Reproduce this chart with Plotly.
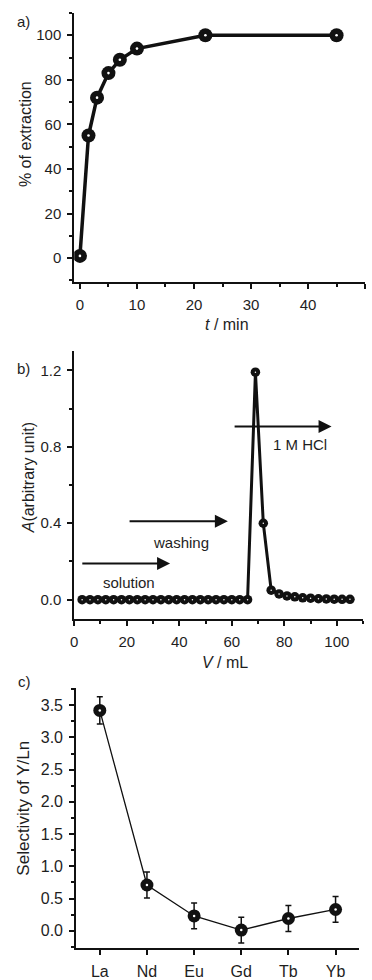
import plotly.graph_objects as go

# ---------------- data ----------------
t_min = [0, 1.5, 3, 5, 7, 10, 22, 45]
extraction_pct = [1, 55, 72, 83, 89, 94, 100, 100]

volume_ml = [3, 6, 9, 12, 15, 18, 21, 24, 27, 30, 33, 36, 39, 42, 45, 48, 51, 54,
             57, 60, 63, 66, 69, 72, 75, 78, 81, 84, 87, 90, 93, 96, 99, 102, 105]
absorbance = [0, 0, 0, 0, 0, 0, 0, 0, 0, 0, 0, 0, 0, 0, 0, 0, 0, 0,
              0, 0, 0, 0, 1.19, 0.40, 0.05, 0.03, 0.02, 0.015, 0.01, 0.008, 0.005,
              0.004, 0.003, 0.002, 0.002]

elements = ["La", "Nd", "Eu", "Gd", "Tb", "Yb"]
selectivity = [3.42, 0.71, 0.23, 0.01, 0.19, 0.33]
selectivity_err = [0.21, 0.20, 0.20, 0.20, 0.20, 0.20]

W, H = 372, 980
FONT = "Liberation Sans, Arial, Helvetica, sans-serif"
INK = "#111111"
TXT = "#1e1e1e"


def px_x(x):
    return x / W


def px_y(y):
    return 1 - y / H


fig = go.Figure()

# panel a
fig.add_trace(go.Scatter(x=t_min, y=extraction_pct, mode="lines+markers",
                         line=dict(color=INK, width=3.5),
                         marker=dict(size=14, color=INK),
                         xaxis="x", yaxis="y", showlegend=False))
fig.add_trace(go.Scatter(x=t_min, y=extraction_pct, mode="markers",
                         marker=dict(size=2.6, color="white"),
                         xaxis="x", yaxis="y", showlegend=False))

# panel b
fig.add_trace(go.Scatter(x=volume_ml, y=absorbance, mode="lines+markers",
                         line=dict(color=INK, width=3),
                         marker=dict(size=9.5, color=INK),
                         xaxis="x2", yaxis="y2", showlegend=False))
fig.add_trace(go.Scatter(x=volume_ml, y=absorbance, mode="markers",
                         marker=dict(size=1.5, color="white"),
                         xaxis="x2", yaxis="y2", showlegend=False))

# panel c
fig.add_trace(go.Scatter(x=elements, y=selectivity, mode="lines+markers",
                         line=dict(color=INK, width=1.3),
                         marker=dict(size=13, color=INK),
                         error_y=dict(type="data", array=selectivity_err, visible=True,
                                      color=INK, thickness=1.5, width=3),
                         xaxis="x3", yaxis="y3", showlegend=False))
fig.add_trace(go.Scatter(x=elements, y=selectivity, mode="markers",
                         marker=dict(size=2.5, color="white"),
                         xaxis="x3", yaxis="y3", showlegend=False))

minor_common = dict(ticks="outside", ticklen=3, tickwidth=2, tickcolor=INK)


def axis_common(size):
    return dict(showline=True, linecolor=INK, linewidth=2, showgrid=False,
                zeroline=False, ticks="outside", ticklen=5, tickwidth=2,
                tickcolor=INK, mirror=False, ticklabelstandoff=3,
                tickfont=dict(family=FONT, size=size, color=TXT))


fig.update_layout(
    width=W, height=H,
    margin=dict(l=0, r=0, t=0, b=0),
    paper_bgcolor="white", plot_bgcolor="white",
    font=dict(family=FONT, color=TXT),
    xaxis=dict(domain=[px_x(71), px_x(365)], range=[-1, 50], dtick=10,
               minor=dict(dtick=5, **minor_common),
               anchor="y", **axis_common(15)),
    yaxis=dict(domain=[px_y(283), px_y(13)], range=[-10.5, 110], dtick=20,
               minor=dict(dtick=10, **minor_common),
               anchor="x", **axis_common(15)),
    xaxis2=dict(domain=[px_x(71), px_x(363)], range=[0, 110], dtick=20,
                minor=dict(dtick=10, **minor_common),
                anchor="y2", **axis_common(15)),
    yaxis2=dict(domain=[px_y(622), px_y(353)], range=[-0.1, 1.3], dtick=0.4,
                tickformat=".1f",
                minor=dict(dtick=0.2, **minor_common),
                anchor="x2", **axis_common(15)),
    xaxis3=dict(domain=[px_x(73), px_x(359)], range=[-0.5, 5.5], type="category",
                minor=dict(**minor_common),
                anchor="y3", **axis_common(16)),
    yaxis3=dict(domain=[px_y(953), px_y(692)], range=[-0.27, 3.76], dtick=0.5,
                tickformat=".1f",
                minor=dict(dtick=0.25, **minor_common),
                anchor="x3", **axis_common(16)),
)

ann = []


def label(text, x, y, size, angle=0):
    ann.append(dict(text=text, x=px_x(x), y=px_y(y), xref="paper", yref="paper",
                    xanchor="center", yanchor="middle", showarrow=False,
                    textangle=angle, font=dict(size=size, color=TXT)))


# panel letters
label("a)", 20, 22, 15)
label("b)", 20, 370, 15)
label("c)", 21, 685, 15)
# axis titles
label("% of extraction", 22, 135, 16, -90)
label("<i>t</i> / min", 225, 326, 16)
label("<i>A</i>(arbitrary unit)", 25, 480, 16, -90)
label("<i>V</i> / mL", 223, 666, 16)
label("Selectivity of Y/Ln", 20, 812, 17, -90)

# panel b arrows and labels
arrows = [
    (2.5, 36.5, 0.19, "solution", 21, 0.09),
    (20.5, 58.5, 0.41, "washing", 40.5, 0.30),
    (60.5, 98, 0.906, "1 M HCl", 86, 0.81),
]
for x0, x1, yv, text, lx, ly in arrows:
    ann.append(dict(x=x1, y=yv, ax=x0, ay=yv, xref="x2", yref="y2", axref="x2", ayref="y2",
                    text="", showarrow=True, arrowhead=2, arrowsize=1.3, arrowwidth=2,
                    arrowcolor=INK))
    ann.append(dict(x=lx, y=ly, xref="x2", yref="y2", text=text, showarrow=False,
                    xanchor="center", yanchor="middle",
                    font=dict(size=15, color=TXT)))

fig.update_layout(annotations=ann)

fig.write_html("out.html")
